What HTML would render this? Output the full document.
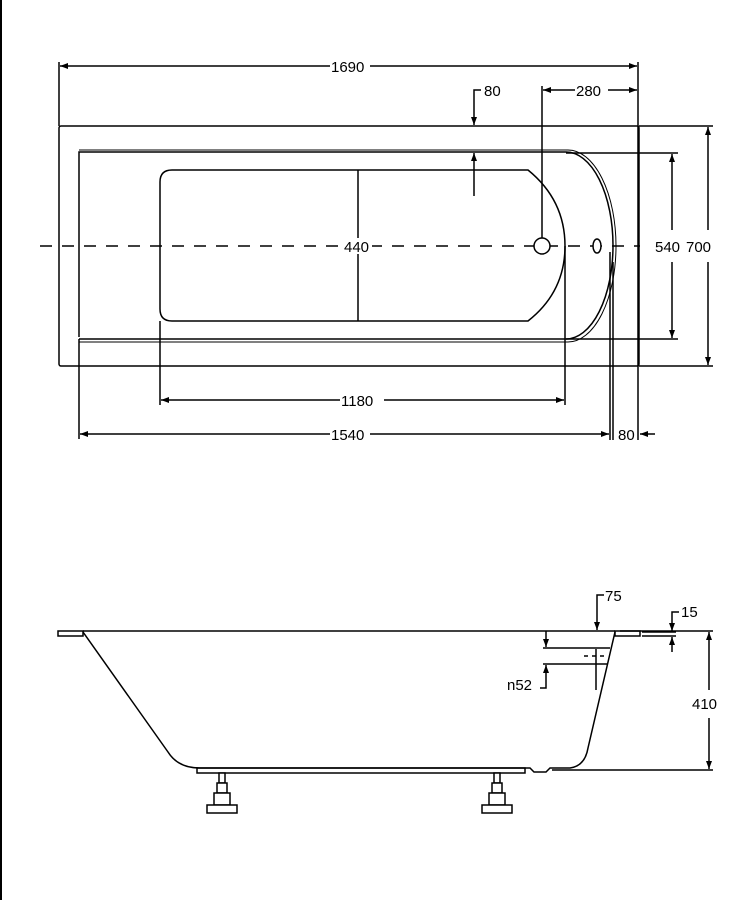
<!DOCTYPE html>
<html><head><style>body{margin:0;background:#fff}svg{display:block}text{font-family:"Liberation Sans",sans-serif;font-size:15px;fill:#000}</style></head>
<body>
<svg width="736" height="900" viewBox="0 0 736 900" xmlns="http://www.w3.org/2000/svg">
<defs><marker id="a" markerWidth="8" markerHeight="6" refX="8" refY="3" orient="auto" markerUnits="userSpaceOnUse"><path d="M0,0L8,3L0,6z" fill="#000"/></marker></defs>
<g stroke="#000" fill="none" stroke-width="1.5">
<line x1="1" y1="0" x2="1" y2="900" stroke-width="2"/>
<!-- top view -->
<rect x="59" y="126" width="580" height="240" rx="2"/>
<path d="M79,337 L79,152 L566,152 A47,93.5 0 0 1 566,339 L79,339"/>
<path d="M79,150 L568,150 A48,96 0 0 1 568,342 L79,342" stroke-width="1"/>
<path d="M172,170 L528,170 Q565,200 565,246 Q565,292 528,321 L172,321 Q160,321 160,309 L160,182 Q160,170 172,170z"/>
<line x1="40" y1="246" x2="640" y2="246" stroke-dasharray="12,10"/>
<circle cx="542" cy="246" r="8" fill="#fff"/>
<ellipse cx="597" cy="246" rx="4" ry="7" fill="#fff"/>
<line x1="358" y1="170" x2="358" y2="321"/>
<!-- 1690 -->
<line x1="59" y1="62" x2="59" y2="126"/><line x1="638" y1="62" x2="638" y2="440"/>
<line x1="330" y1="66" x2="60" y2="66" marker-end="url(#a)"/><line x1="370" y1="66" x2="637" y2="66" marker-end="url(#a)"/>
<!-- 280 -->
<line x1="542" y1="86" x2="542" y2="238"/>
<line x1="575" y1="90" x2="543" y2="90" marker-end="url(#a)"/><line x1="608" y1="90" x2="637" y2="90" marker-end="url(#a)"/>
<!-- 80 top -->
<path d="M481,90 L474,90 L474,125" marker-end="url(#a)"/>
<line x1="474" y1="196" x2="474" y2="153" marker-end="url(#a)"/>
<!-- 540 / 700 -->
<line x1="566" y1="153" x2="678" y2="153"/><line x1="566" y1="339" x2="678" y2="339"/>
<line x1="672" y1="230" x2="672" y2="154" marker-end="url(#a)"/><line x1="672" y1="262" x2="672" y2="338" marker-end="url(#a)"/>
<line x1="639" y1="126" x2="713" y2="126"/><line x1="639" y1="366" x2="713" y2="366"/>
<line x1="708" y1="230" x2="708" y2="127" marker-end="url(#a)"/><line x1="708" y1="262" x2="708" y2="365" marker-end="url(#a)"/>
<!-- 1180 -->
<line x1="160" y1="321" x2="160" y2="405"/><line x1="565" y1="246" x2="565" y2="405"/>
<line x1="340" y1="400" x2="161" y2="400" marker-end="url(#a)"/><line x1="384" y1="400" x2="564" y2="400" marker-end="url(#a)"/>
<!-- 1540 -->
<line x1="79" y1="339" x2="79" y2="439"/><line x1="610" y1="252" x2="610" y2="440"/><line x1="613" y1="262" x2="613" y2="440"/>
<line x1="330" y1="434" x2="80" y2="434" marker-end="url(#a)"/><line x1="370" y1="434" x2="609" y2="434" marker-end="url(#a)"/>
<line x1="655" y1="434" x2="640" y2="434" marker-end="url(#a)"/>
<!-- side view -->
<rect x="58" y="631" width="25" height="5"/>
<line x1="83" y1="631" x2="615" y2="631"/>
<rect x="615" y="631" width="25" height="5"/>
<line x1="642" y1="632" x2="676" y2="632"/><line x1="642" y1="636" x2="676" y2="636"/>
<path d="M83,632 L168,752 Q178,768 200,768 L530,768 L534,772 L546,772 L550,768 L570,768 Q585,766 588,748 L615,632"/>
<rect x="197" y="768" width="328" height="5"/>
<g fill="#fff">
<rect x="219" y="773" width="6" height="10"/><rect x="217" y="783" width="10" height="10"/><rect x="214" y="793" width="16" height="12"/><rect x="207" y="805" width="30" height="8"/>
<rect x="494" y="773" width="6" height="10"/><rect x="492" y="783" width="10" height="10"/><rect x="489" y="793" width="16" height="12"/><rect x="482" y="805" width="30" height="8"/>
</g>
<!-- 410 -->
<line x1="620" y1="631" x2="713" y2="631"/><line x1="552" y1="770" x2="713" y2="770"/>
<line x1="709" y1="690" x2="709" y2="632" marker-end="url(#a)"/><line x1="709" y1="718" x2="709" y2="769" marker-end="url(#a)"/>
<!-- 75 -->
<path d="M604,595 L597,595 L597,630" marker-end="url(#a)"/>
<!-- 15 -->
<path d="M679,612 L672,612 L672,631" marker-end="url(#a)"/><line x1="672" y1="652" x2="672" y2="637" marker-end="url(#a)"/>
<!-- n52 -->
<line x1="543" y1="648" x2="610" y2="648"/><line x1="543" y1="664" x2="608" y2="664"/>
<line x1="584" y1="656" x2="608" y2="656" stroke-dasharray="4,4"/>
<line x1="546" y1="631" x2="546" y2="647" marker-end="url(#a)"/>
<path d="M546,680 L546,688 L540,688"/><line x1="546" y1="680" x2="546" y2="665" marker-end="url(#a)"/>
<line x1="596" y1="649" x2="596" y2="690"/>
</g>
<g fill="#fff">
<rect x="342" y="238" width="30" height="16"/>
<rect x="650" y="238" width="34" height="16"/>
</g>
<g>
<text x="331" y="72">1690</text>
<text x="484" y="96">80</text>
<text x="576" y="96">280</text>
<text x="655" y="252">540</text>
<text x="686" y="252">700</text>
<text x="344" y="252">440</text>
<text x="341" y="406">1180</text>
<text x="331" y="440">1540</text>
<text x="618" y="440">80</text>
<text x="605" y="601">75</text>
<text x="681" y="617">15</text>
<text x="507" y="690">n52</text>
<text x="692" y="709">410</text>
</g>
</svg>
</body></html>
